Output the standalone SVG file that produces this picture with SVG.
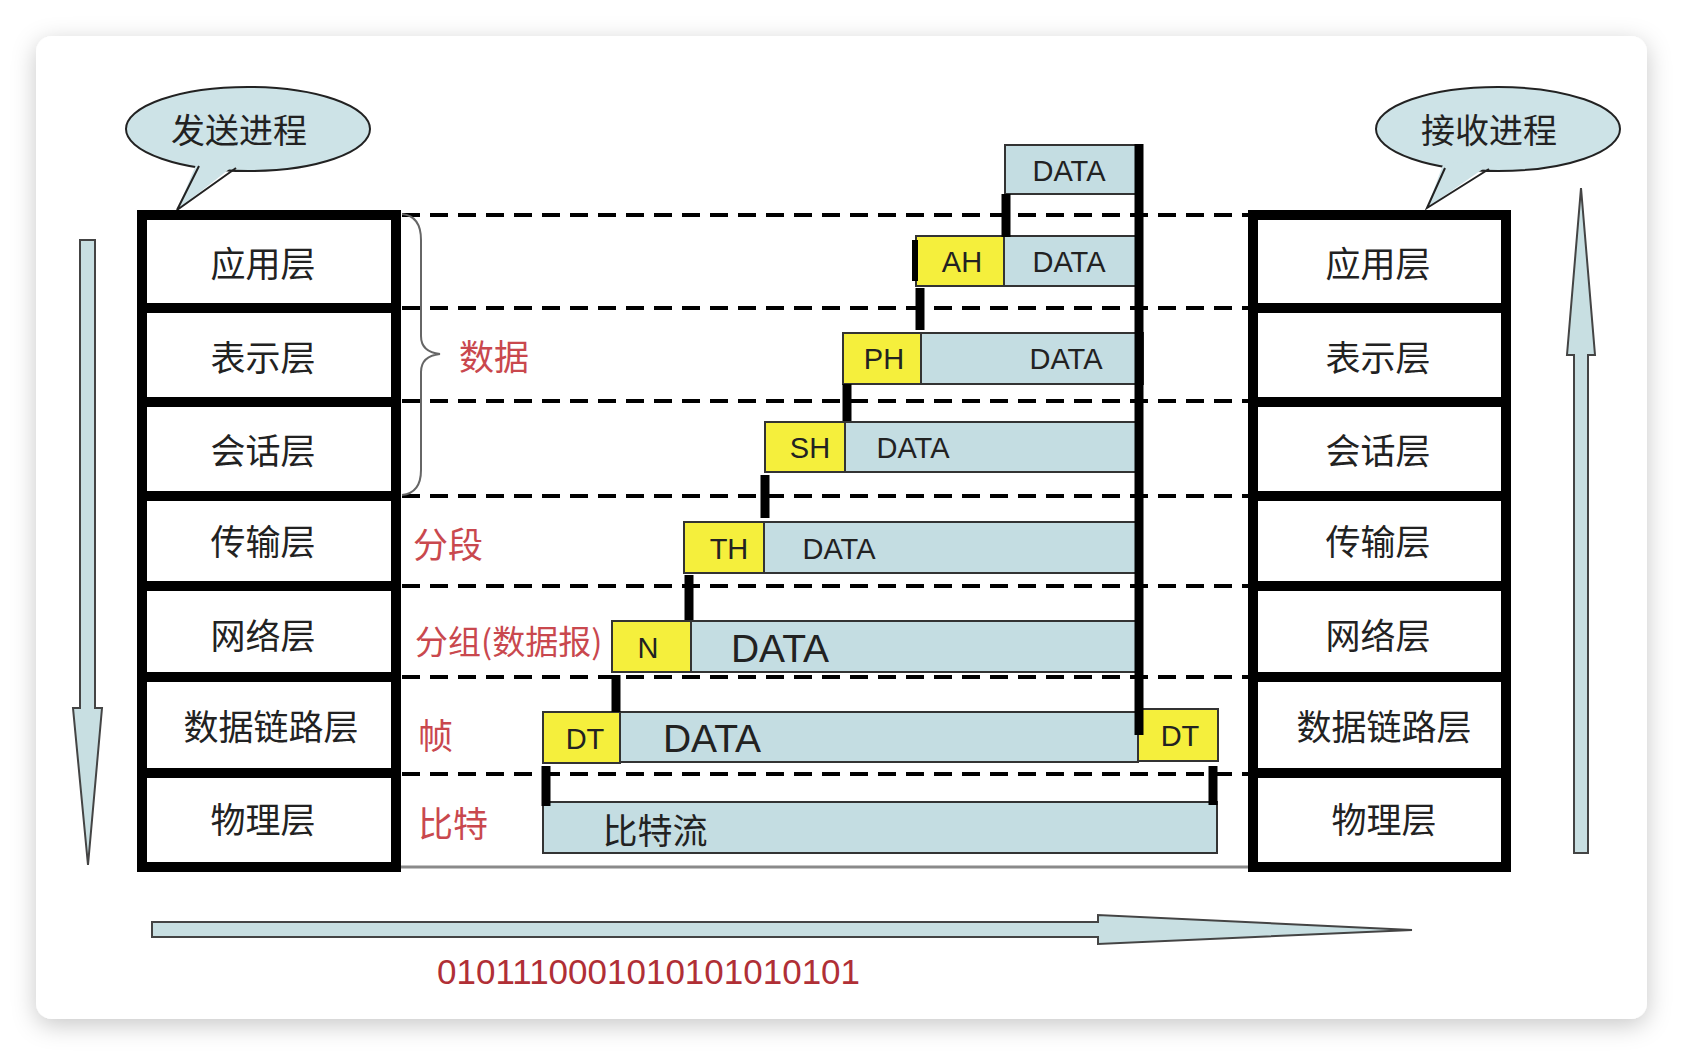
<svg xmlns="http://www.w3.org/2000/svg" width="1682" height="1056" viewBox="0 0 1682 1056">
  <defs>
    <filter id="shadow" x="-5%" y="-5%" width="110%" height="112%">
      <feDropShadow dx="0" dy="6" stdDeviation="12" flood-color="#000" flood-opacity="0.22"/>
    </filter>
  </defs>
  <style>
    .stack { fill: #fff; stroke: #000; stroke-width: 10; }
    .sep { stroke: #000; stroke-width: 10; }
    .layer { font-family: "Noto Sans CJK SC", "Noto Sans", sans-serif; font-size: 35px; fill: #222; text-anchor: middle; dominant-baseline: central; }
    .bubble { fill: #cde3e7; stroke: #222; stroke-width: 2; }
    .tailfill { fill: #cde3e7; stroke: none; }
    .tailedge { stroke: #222; stroke-width: 2; fill: none; }
    .btxt { font-family: "Noto Sans CJK SC", sans-serif; font-size: 34px; fill: #222; text-anchor: middle; dominant-baseline: central; }
    .dash { stroke: #000; stroke-width: 4; stroke-dasharray: 18 10; fill: none; }
    .data { fill: #c4dde2; stroke: #333; stroke-width: 2; }
    .hdr { fill: #f5ef3c; stroke: #333; stroke-width: 2; }
    .lat { font-family: "Liberation Sans", Arial, sans-serif; font-size: 29px; fill: #222; text-anchor: middle; dominant-baseline: central; }
    .big { font-size: 39px; }
    .red { font-family: "Noto Sans CJK SC", sans-serif; font-size: 35px; fill: #c9484e; dominant-baseline: central; }
    .bar { stroke: #000; stroke-width: 9; }
    .arrow { fill: #c8dfe2; stroke: #444; stroke-width: 2; }
    .cjk { font-family: "Noto Sans CJK SC", sans-serif; font-size: 35px; fill: #222; text-anchor: middle; dominant-baseline: central; }
  </style>

  <rect width="1682" height="1056" fill="#ffffff"/>
  <rect x="36" y="36" width="1611" height="983" rx="16" fill="#fff" filter="url(#shadow)"/>

  <!-- dashed layer lines -->
  <g id="dashed">
    <line class="dash" x1="402" y1="215" x2="1248" y2="215"/>
    <line class="dash" x1="402" y1="308" x2="1248" y2="308"/>
    <line class="dash" x1="402" y1="401" x2="1248" y2="401"/>
    <line class="dash" x1="402" y1="496" x2="1248" y2="496"/>
    <line class="dash" x1="402" y1="586" x2="1248" y2="586"/>
    <line class="dash" x1="402" y1="677" x2="1248" y2="677"/>
    <line class="dash" x1="402" y1="774" x2="1248" y2="774"/>
    <line x1="400" y1="867" x2="1250" y2="867" stroke="#8a8a8a" stroke-width="3"/>
  </g>

  <!-- sending bubble -->
  <g id="bubble-send">
    <ellipse class="bubble" cx="248" cy="129" rx="122" ry="42"/>
    <polygon class="tailfill" points="198,160 237,163 177,210"/>
    <polyline class="tailedge" points="199,166 177,210 236,168"/>
    <text class="btxt" x="239" y="128">发送进程</text>
  </g>
  <!-- receiving bubble -->
  <g id="bubble-recv">
    <ellipse class="bubble" cx="1498" cy="129" rx="122" ry="42"/>
    <polygon class="tailfill" points="1444,162 1490,164 1427,208"/>
    <polyline class="tailedge" points="1445,168 1427,208 1489,169"/>
    <text class="btxt" x="1489" y="128">接收进程</text>
  </g>

  <!-- left stack -->
  <g id="send-stack">
    <rect class="stack" x="142" y="215" width="254" height="652"/>
    <line class="sep" x1="137" y1="308" x2="401" y2="308"/>
    <line class="sep" x1="137" y1="402" x2="401" y2="402"/>
    <line class="sep" x1="137" y1="496" x2="401" y2="496"/>
    <line class="sep" x1="137" y1="586" x2="401" y2="586"/>
    <line class="sep" x1="137" y1="677" x2="401" y2="677"/>
    <line class="sep" x1="137" y1="773" x2="401" y2="773"/>
    <g id="s-app"><text class="layer" x="263" y="261">应用层</text></g>
    <g id="s-pres"><text class="layer" x="263" y="355">表示层</text></g>
    <g id="s-sess"><text class="layer" x="263" y="448">会话层</text></g>
    <g id="s-trans"><text class="layer" x="263" y="539">传输层</text></g>
    <g id="s-net"><text class="layer" x="263" y="633">网络层</text></g>
    <g id="s-link"><text class="layer" x="271" y="724">数据链路层</text></g>
    <g id="s-phys"><text class="layer" x="263" y="817">物理层</text></g>
  </g>

  <!-- right stack -->
  <g id="recv-stack">
    <rect class="stack" x="1253" y="215" width="253" height="652"/>
    <line class="sep" x1="1248" y1="308" x2="1511" y2="308"/>
    <line class="sep" x1="1248" y1="402" x2="1511" y2="402"/>
    <line class="sep" x1="1248" y1="496" x2="1511" y2="496"/>
    <line class="sep" x1="1248" y1="586" x2="1511" y2="586"/>
    <line class="sep" x1="1248" y1="677" x2="1511" y2="677"/>
    <line class="sep" x1="1248" y1="773" x2="1511" y2="773"/>
    <g id="r-app"><text class="layer" x="1378" y="261">应用层</text></g>
    <g id="r-pres"><text class="layer" x="1378" y="355">表示层</text></g>
    <g id="r-sess"><text class="layer" x="1378" y="448">会话层</text></g>
    <g id="r-trans"><text class="layer" x="1378" y="539">传输层</text></g>
    <g id="r-net"><text class="layer" x="1378" y="633">网络层</text></g>
    <g id="r-link"><text class="layer" x="1384" y="724">数据链路层</text></g>
    <g id="r-phys"><text class="layer" x="1384" y="817">物理层</text></g>
  </g>

  <!-- brace and red labels -->
  <g id="labels">
    <path d="M402,214 Q421,216 421,240 L421,336 Q421,352 440,354 Q421,356 421,372 L421,470 Q421,493 402,495" fill="none" stroke="#666" stroke-width="2"/>
    <text class="red" x="459" y="354">数据</text>
    <text class="red" x="413" y="542">分段</text>
    <text class="red" x="415" y="640" style="font-size:33px">分组(数据报)</text>
    <text class="red" x="418" y="733">帧</text>
    <text class="red" x="418" y="821">比特</text>
  </g>

  <!-- PDU boxes -->
  <g id="pdu-app-data">
    <rect class="data" x="1005" y="145" width="132" height="49"/>
    <text class="lat" x="1069" y="171">DATA</text>
  </g>
  <g id="pdu-ah">
    <rect class="hdr" x="916" y="236" width="88" height="50"/>
    <rect class="data" x="1004" y="236" width="133" height="50"/>
    <text class="lat" x="962" y="262">AH</text>
    <text class="lat" x="1069" y="262">DATA</text>
  </g>
  <g id="pdu-ph">
    <rect class="hdr" x="843" y="333" width="78" height="51"/>
    <rect class="data" x="921" y="333" width="222" height="51"/>
    <text class="lat" x="884" y="359">PH</text>
    <text class="lat" x="1066" y="359">DATA</text>
  </g>
  <g id="pdu-sh">
    <rect class="hdr" x="765" y="422" width="80" height="50"/>
    <rect class="data" x="845" y="422" width="292" height="50"/>
    <text class="lat" x="810" y="448">SH</text>
    <text class="lat" x="913" y="448">DATA</text>
  </g>
  <g id="pdu-th">
    <rect class="hdr" x="684" y="522" width="80" height="51"/>
    <rect class="data" x="764" y="522" width="373" height="51"/>
    <text class="lat" x="729" y="549">TH</text>
    <text class="lat" x="839" y="549">DATA</text>
  </g>
  <g id="pdu-n">
    <rect class="hdr" x="612" y="621" width="79" height="51"/>
    <rect class="data" x="691" y="621" width="446" height="51"/>
    <text class="lat" x="648" y="648">N</text>
    <text class="lat big" x="780" y="648">DATA</text>
  </g>
  <g id="pdu-dt">
    <rect class="hdr" x="543" y="712" width="77" height="51"/>
    <rect class="data" x="620" y="712" width="518" height="50"/>
    <rect class="hdr" x="1138" y="709" width="80" height="52"/>
    <text class="lat" x="585" y="739">DT</text>
    <text class="lat big" x="712" y="738">DATA</text>
    <text class="lat" x="1180" y="736">DT</text>
  </g>
  <g id="pdu-bits">
    <rect class="data" x="543" y="802" width="674" height="51"/>
    <text class="cjk" x="655" y="828">比特流</text>
  </g>

  <!-- connectors -->
  <g id="connectors">
    <line class="bar" x1="1139" y1="144" x2="1139" y2="735"/>
    <line class="bar" x1="1006" y1="194" x2="1006" y2="237"/>
    <line class="bar" x1="915" y1="240" x2="915" y2="281" style="stroke-width:6"/>
    <line class="bar" x1="920" y1="288" x2="920" y2="330"/>
    <line class="bar" x1="847" y1="384" x2="847" y2="421"/>
    <line class="bar" x1="765" y1="475" x2="765" y2="518"/>
    <line class="bar" x1="689" y1="575" x2="689" y2="620"/>
    <line class="bar" x1="616" y1="675" x2="616" y2="712"/>
    <line class="bar" x1="546" y1="766" x2="546" y2="806"/>
    <line class="bar" x1="1213" y1="766" x2="1213" y2="805"/>
  </g>

  <!-- direction arrows -->
  <g id="arrow-down">
    <polygon class="arrow" points="80,240 95,240 95,708 102,708 88,865 73,708 80,708"/>
  </g>
  <g id="arrow-up">
    <polygon class="arrow" points="1574,853 1588,853 1588,355 1595,355 1581,188 1567,355 1574,355"/>
  </g>
  <g id="arrow-right">
    <polygon class="arrow" points="152,922 1098,922 1098,915 1412,930 1098,944 1098,937 152,937"/>
  </g>
  <g id="bits">
    <text x="437" y="971" font-family="Liberation Sans, Arial, sans-serif" font-size="35" fill="#b02f36" dominant-baseline="central">0101110001010101010101</text>
  </g>
</svg>
